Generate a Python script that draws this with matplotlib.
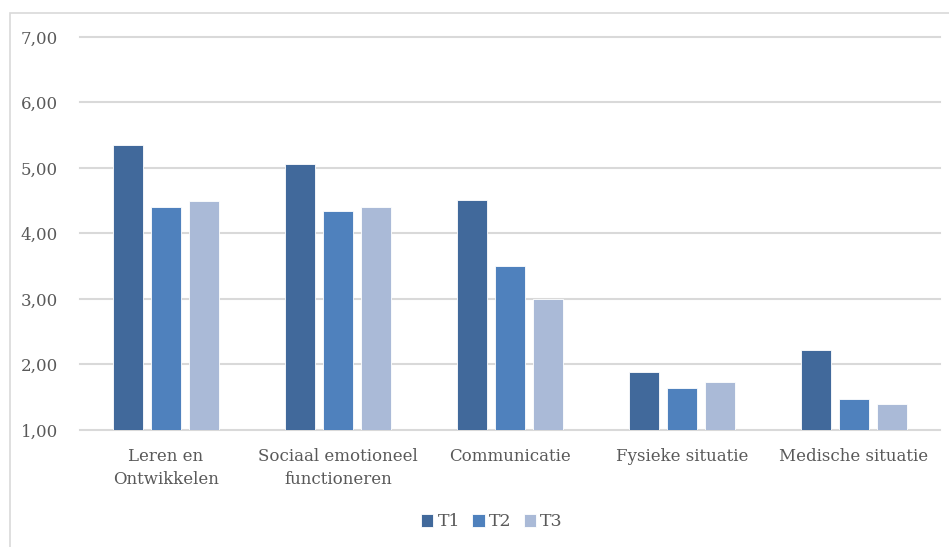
import matplotlib.pyplot as plt
import numpy as np
from matplotlib.patches import Rectangle

# data
categories = ['Leren en\nOntwikkelen', 'Sociaal emotioneel\nfunctioneren', 'Communicatie',
              'Fysieke situatie', 'Medische situatie']
t1 = [5.35, 5.06, 4.51, 1.89, 2.22]
t2 = [4.40, 4.34, 3.51, 1.64, 1.47]
t3 = [4.49, 4.40, 3.00, 1.74, 1.39]
series_names = ['T1', 'T2', 'T3']
colors = ['#41699B', '#4F81BD', '#AABAD7']
yticks = [1, 2, 3, 4, 5, 6, 7]

plt.rcParams['font.family'] = ['DejaVu Serif']
txt = '#595959'

fig = plt.figure(figsize=(9.49, 5.47), dpi=100)
ax = fig.add_axes([0.0843, 0.2139, 0.9062, 0.7185])

# outer chart border
fig.patches.append(Rectangle((10 / 949, -0.05), 1.0, 1 - 13 / 547 + 0.05,
                             transform=fig.transFigure, fill=False,
                             edgecolor='#D9D9D9', linewidth=1.2))

x = np.arange(len(categories))
w = 0.175
offs = [-0.22, 0, 0.22]
for vals, off, c, name in zip([t1, t2, t3], offs, colors, series_names):
    ax.bar(x + off, [v - 1 for v in vals], w, bottom=1, color=c,
           edgecolor='white', linewidth=0.6, label=name, zorder=3)

ax.set_xlim(-0.5, len(categories) - 0.5)
ax.set_ylim(1, 7)
ax.set_yticks(yticks)
ax.set_xticks(x)
ax.set_xticklabels(categories, color=txt, fontsize=12, linespacing=1.45)
ax.tick_params(axis='both', length=0)
ax.tick_params(axis='y', pad=16, labelsize=12, labelcolor=txt)
ax.tick_params(axis='x', pad=13)
ax.yaxis.set_major_formatter(plt.FuncFormatter(lambda v, p: ('%.2f' % v).replace('.', ',')))
ax.grid(axis='y', color='#D9D9D9', linewidth=1.5, zorder=0)
for gl in ax.get_ygridlines():
    gl.set_clip_on(False)
for s in ax.spines.values():
    s.set_visible(False)

leg = fig.legend(loc='center', bbox_to_anchor=(492 / 949, 1 - 522 / 547), ncol=3,
                 frameon=False, fontsize=12.5, handlelength=0.7, handleheight=0.7,
                 handletextpad=0.25, columnspacing=0.7)
for t in leg.get_texts():
    t.set_color(txt)

plt.savefig('out.png', dpi=100)
